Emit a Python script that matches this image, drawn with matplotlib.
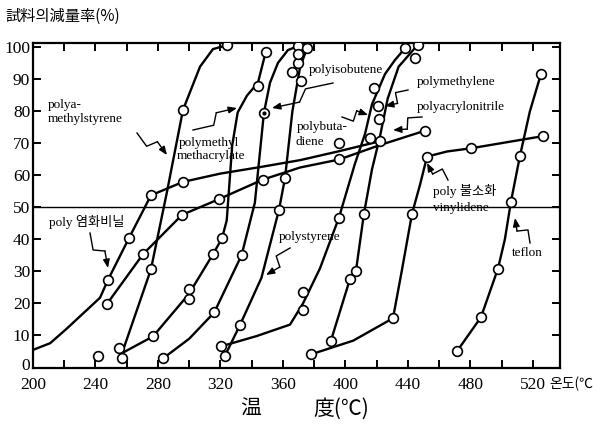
import matplotlib
matplotlib.use('Agg')
import matplotlib.pyplot as plt
import matplotlib.transforms as mtransforms
import numpy as np

# ---------------- data (temperature °C, % weight loss) ----------------
pvc_T = [200, 211, 221.5, 242.9, 248, 261.4, 275.5, 296, 320, 345, 371, 396, 422]
pvc_v = [5.5, 7.6, 12.1, 21.8, 27.4, 40.4, 53.8, 58, 60.6, 62.6, 64.8, 67.6, 70.7]
pvc_pT = [248, 261.4, 275.5, 296, 422]
pvc_pv = [27.4, 40.4, 53.8, 58, 70.7]

pan_T = [247.4, 270.4, 295.4, 319, 347, 371, 396, 422, 450.9]
pan_v = [19.9, 35.4, 47.7, 52.6, 58.7, 62.5, 65, 69.5, 74]
pan_pT = [247.4, 270.4, 295.4, 319, 347, 396, 450.9]
pan_pv = [19.9, 35.4, 47.7, 52.6, 58.7, 65, 74]

ams_T = [257, 275.5, 285.8, 296, 306.9, 315.2, 324.2]
ams_v = [4.5, 30.7, 55, 80.5, 94, 99.5, 100.7]
ams_pT = [255, 256.7, 241.6, 275.5, 296, 324.2]
ams_pv = [6.2, 3.1, 3.7, 30.7, 80.5, 100.7]

pmma_T = [257, 276.8, 299.8, 315.2, 321, 324, 327.5, 331, 337, 344, 349]
pmma_v = [4.5, 9.7, 23, 35.4, 40.4, 46, 69.4, 79.7, 85, 89, 98.7]
pmma_pT = [276.8, 299.8, 299.8, 315.2, 321, 344, 349]
pmma_pv = [9.7, 21.4, 24.6, 35.4, 40.4, 88, 98.7]

pib_T = [283.4, 300, 316, 333.5, 342, 347.8, 351.7, 356.8, 363.2, 369.6]
pib_v = [2.9, 9, 17.2, 35.1, 51.5, 79.6, 89, 95.2, 99.2, 100.4]
pib_pT = [283.4, 316, 333.5, 369.6]
pib_pv = [2.9, 17.2, 35.1, 100.4]
pib_dotT = [347.8]
pib_dotv = [79.6]

ps_T = [322.9, 332.5, 346.2, 357.4, 361.3, 366, 371, 375.4]
ps_v = [3.7, 13.3, 28, 49.2, 59.2, 80, 94, 99.7]
ps_pT = [322.9, 332.5, 357.4, 361.3, 365.8, 371.5, 369.6, 369.6, 375.4]
ps_pv = [3.7, 13.3, 49.2, 59.2, 92.3, 89.5, 95.1, 98, 99.7]

pbd_T = [320.3, 343, 364.5, 372.8, 383.7, 395.8, 406, 412.5, 417, 425.3, 431.7, 438]
pbd_v = [6.6, 9.8, 13.4, 20, 31, 46.8, 63.6, 73, 82.3, 91.7, 96.1, 99.7]
pbd_pT = [320.3, 372.8, 372.8, 395.8, 415.7, 421.4, 438, 395.8, 418.2]
pbd_pv = [6.6, 17.9, 23.5, 46.8, 71.7, 77.6, 99.7, 70.2, 87.3]

pme_T = [390.7, 402.9, 406.7, 411.8, 417, 422, 427, 434, 446.4]
pme_v = [8.4, 27.7, 30.2, 48, 62, 72, 84, 94, 100.9]
pme_pT = [390.7, 402.9, 406.7, 411.8, 420.8, 444.5, 446.4]
pme_pv = [8.4, 27.7, 30.2, 48, 81.7, 96.8, 100.9]

pvdf_T = [377.9, 405, 430.4, 436, 442.6, 447.7, 452.2, 465, 480.3, 526.4]
pvdf_v = [4.1, 8.4, 15.4, 30.1, 48.1, 57.1, 65.9, 67.5, 68.5, 72.3]
pvdf_pT = [377.9, 430.4, 442.6, 452.2, 480.3, 526.4]
pvdf_pv = [4.1, 15.4, 48.1, 65.9, 68.5, 72.3]

tef_T = [471.4, 486.7, 497.6, 502, 505.9, 511.7, 518, 525.1]
tef_v = [5.1, 15.7, 30.9, 40, 51.8, 66.2, 80, 91.7]
tef_pT = [471.4, 486.7, 497.6, 505.9, 511.7, 525.1]
tef_pv = [5.1, 15.7, 30.9, 51.8, 66.2, 91.7]

x_ticks = [200, 220, 240, 260, 280, 300, 320, 340, 360, 380, 400, 420, 440, 460, 480, 500, 520]
x_labels = ['200', '', '240', '', '280', '', '320', '', '360', '', '400', '', '440', '', '480', '', '520']
y_ticks = [0, 10, 20, 30, 40, 50, 60, 70, 80, 90, 100]

# ---------------- figure ----------------
W, H = 593, 438
fig = plt.figure(figsize=(W / 100, H / 100), dpi=100)
pix = mtransforms.Affine2D().scale(1 / W, -1 / H).translate(0, 1) + fig.transFigure

ax = fig.add_axes([33 / W, 1 - 367.5 / H, (560 - 33) / W, (367.5 - 43) / H])
ax.set_xlim(200, 537.3)
ax.set_ylim(0, 101.4)

serif = ['Liberation Serif', 'Noto Sans CJK KR']
cjk = ['Noto Sans CJK KR', 'DejaVu Sans']

for s in ax.spines.values():
    s.set_linewidth(1.6)
ax.set_xticks(x_ticks)
ax.set_xticklabels(x_labels)
ax.set_yticks(y_ticks)
ax.tick_params(direction='in', top=True, right=True, length=6, width=1.4,
               labelsize=12.5, pad=7)
ax.tick_params(axis='y', pad=2)
for lab in ax.get_xticklabels() + ax.get_yticklabels():
    lab.set_family(serif)
# nudge the "0" label up slightly so it does not collide with "200"
fig.canvas.draw()
zero = ax.yaxis.get_major_ticks()[0].label1
zero.set_transform(zero.get_transform() +
                   mtransforms.ScaledTranslation(0, 3 / 100, fig.dpi_scale_trans))

ax.axhline(50, color='black', lw=1.0, zorder=1)

line_kw = dict(color='black', lw=1.7, zorder=2)
mk_kw = dict(ls='none', marker='o', ms=7, mfc='white', mec='black', mew=1.2, zorder=3)

series = [(pvc_T, pvc_v, pvc_pT, pvc_pv), (pan_T, pan_v, pan_pT, pan_pv),
          (ams_T, ams_v, ams_pT, ams_pv), (pmma_T, pmma_v, pmma_pT, pmma_pv),
          (pib_T, pib_v, pib_pT, pib_pv), (ps_T, ps_v, ps_pT, ps_pv),
          (pbd_T, pbd_v, pbd_pT, pbd_pv), (pme_T, pme_v, pme_pT, pme_pv),
          (pvdf_T, pvdf_v, pvdf_pT, pvdf_pv), (tef_T, tef_v, tef_pT, tef_pv)]
for lt, lv, pt, pv in series:
    ax.plot(lt, lv, **line_kw)
    ax.plot(pt, pv, **mk_kw)
ax.plot(pib_dotT, pib_dotv, **mk_kw)
ax.plot(pib_dotT, pib_dotv, ls='none', marker='o', ms=2, color='black', zorder=4)

# ---------------- labels ----------------
lab_kw = dict(transform=pix, family=serif, fontsize=9.5, va='center', ha='left')
labels = [
    (48, 105, 'polya-'), (48, 119, 'methylstyrene'),
    (179, 143, 'polymethyl'), (177, 156, 'methacrylate'),
    (309, 70, 'polyisobutene'), (417, 82, 'polymethylene'),
    (417, 107, 'polyacrylonitrile'), (297, 127, 'polybuta-'), (295, 142, 'diene'),
    (433, 191, 'poly 불소화'), (433, 208, 'vinylidene'), (512, 253, 'teflon'),
    (279, 237, 'polystyrene'), (49, 222, 'poly 염화비닐'),
]
for x, y, t in labels:
    fig.text(x, y, t, **lab_kw)

arrows = [((137, 133), (167, 155)), ((193, 130), (237, 108)), ((333, 83), (272, 108)),
          ((342, 117), (368, 115)), ((408, 90), (385, 106)), ((422, 117), (393, 130)),
          ((448, 180), (427, 163)), ((530, 243), (515, 218)), ((290, 248), (266, 275)),
          ((90, 233), (108, 268))]
for s, e in arrows:
    s = np.array(s, float); e = np.array(e, float)
    d = e - s
    L = np.hypot(*d)
    n = np.array([-d[1], d[0]]) / L
    p1 = s + 0.42 * d + n * 5
    p2 = s + 0.58 * d - n * 5
    fig.add_artist(plt.Line2D([s[0], p1[0], p2[0]], [s[1], p1[1], p2[1]],
                              transform=pix, color='black', lw=1.0))
    ax.annotate('', xy=tuple(e), xycoords=pix, xytext=tuple(p2), textcoords=pix,
                arrowprops=dict(arrowstyle='-|>,head_length=0.5,head_width=0.2',
                                color='black', lw=1.0, shrinkA=0, shrinkB=0),
                annotation_clip=False)

fig.text(5, 16, '試料의減量率(%)', transform=pix, family=cjk, fontsize=11,
         va='center', ha='left')
fig.text(549, 384, '온도(℃', transform=pix, family=cjk, fontsize=10,
         va='center', ha='left')
fig.text(251, 409, '温', transform=pix, family=cjk, fontsize=15, va='center', ha='center')
fig.text(341, 409, '度(℃)', transform=pix, family=cjk, fontsize=15, va='center', ha='center')

fig.savefig('out.png', dpi=100)
